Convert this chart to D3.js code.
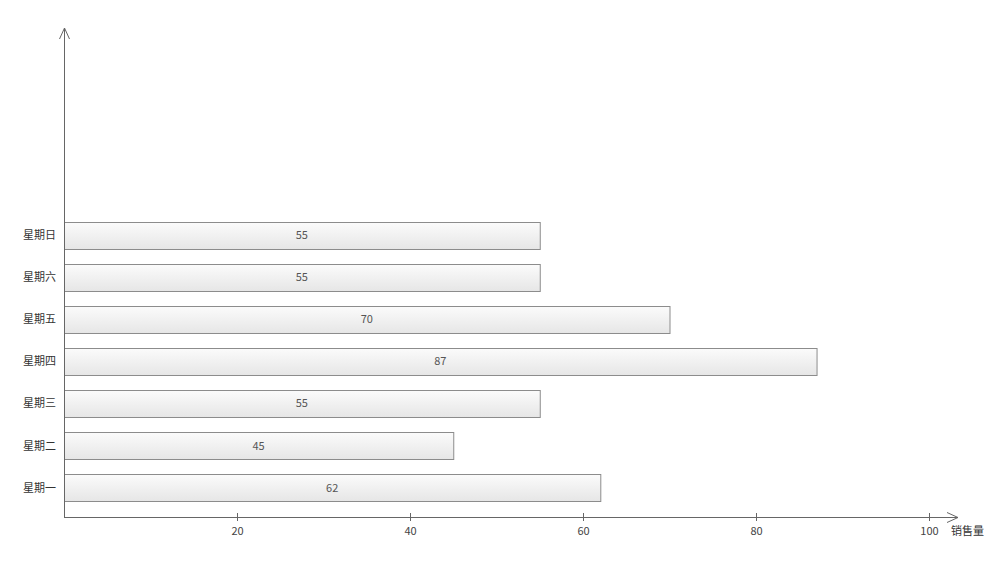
<!DOCTYPE html>
<html>
<head>
<meta charset="utf-8">
<script src="https://cdn.jsdelivr.net/npm/d3@7"></script>
<style>
  body { margin: 0; background: #fff; }
  text { font-family: "Noto Sans CJK SC", "DejaVu Sans", sans-serif; }
</style>
</head>
<body>
<svg id="chart" width="1000" height="567"></svg>
<script>
const days = ['星期一', '星期二', '星期三', '星期四', '星期五', '星期六', '星期日'];
const sales = [62, 45, 55, 87, 70, 55, 55];
const xTicks = [20, 40, 60, 80, 100];
const xLabel = '销售量';

const svg = d3.select('#chart');
const origin = { x: 64, y: 517 };

const x = d3.scaleLinear().domain([0, 100]).range([origin.x, 929]);
const y = d3.scaleBand().domain(days).range([509, 214]).paddingInner(0.36).paddingOuter(0.18);

const defs = svg.append('defs');
const grad = defs.append('linearGradient')
  .attr('id', 'barGrad')
  .attr('x1', 0).attr('y1', 0).attr('x2', 0).attr('y2', 1);
grad.append('stop').attr('offset', '0%').attr('stop-color', '#fbfbfb');
grad.append('stop').attr('offset', '100%').attr('stop-color', '#e6e6e6');

const data = days.map((d, i) => ({ day: d, value: sales[i] }));

// bars
svg.append('g')
  .selectAll('rect')
  .data(data)
  .enter()
  .append('rect')
  .attr('x', x(0) + 0.5)
  .attr('y', d => Math.round(y(d.day)) + 0.5)
  .attr('width', d => x(d.value) - x(0))
  .attr('height', Math.round(y.bandwidth()))
  .attr('fill', 'url(#barGrad)')
  .attr('stroke', '#8c8c8c')
  .attr('stroke-width', 1);

// value labels
svg.append('g')
  .selectAll('text')
  .data(data)
  .enter()
  .append('text')
  .attr('x', d => (x(0) + x(d.value)) / 2)
  .attr('y', d => y(d.day) + y.bandwidth() / 2)
  .attr('dy', '0.35em')
  .attr('text-anchor', 'middle')
  .attr('font-size', 11)
  .attr('fill', '#555')
  .text(d => d.value);

// category labels
svg.append('g')
  .selectAll('text')
  .data(days)
  .enter()
  .append('text')
  .attr('x', 56)
  .attr('y', d => y(d) + y.bandwidth() / 2)
  .attr('dy', '0.35em')
  .attr('text-anchor', 'end')
  .attr('font-size', 11)
  .attr('fill', '#333')
  .text(d => d);

// axes
const axisColor = '#666';
svg.append('line')
  .attr('x1', origin.x + 0.5).attr('x2', origin.x + 0.5)
  .attr('y1', origin.y).attr('y2', 28)
  .attr('stroke', axisColor);
svg.append('path')
  .attr('d', `M${origin.x - 4.5},39 L${origin.x + 0.5},28 L${origin.x + 5.5},39`)
  .attr('fill', 'none').attr('stroke', axisColor);

svg.append('line')
  .attr('x1', origin.x).attr('x2', 958)
  .attr('y1', origin.y + 0.5).attr('y2', origin.y + 0.5)
  .attr('stroke', axisColor);
svg.append('path')
  .attr('d', `M947,${origin.y - 4.5} L958,${origin.y + 0.5} L947,${origin.y + 5.5}`)
  .attr('fill', 'none').attr('stroke', axisColor);

const ticks = svg.append('g')
  .selectAll('g')
  .data(xTicks)
  .enter()
  .append('g')
  .attr('transform', d => `translate(${Math.round(x(d)) + 0.5},${origin.y})`);
ticks.append('line')
  .attr('y1', -4).attr('y2', 4)
  .attr('stroke', axisColor);
ticks.append('text')
  .attr('y', 18)
  .attr('text-anchor', 'middle')
  .attr('font-size', 11)
  .attr('fill', '#444')
  .text(d => d);

svg.append('text')
  .attr('x', 951)
  .attr('y', 535)
  .attr('font-size', 11)
  .attr('fill', '#333')
  .text(xLabel);
</script>
</body>
</html>
